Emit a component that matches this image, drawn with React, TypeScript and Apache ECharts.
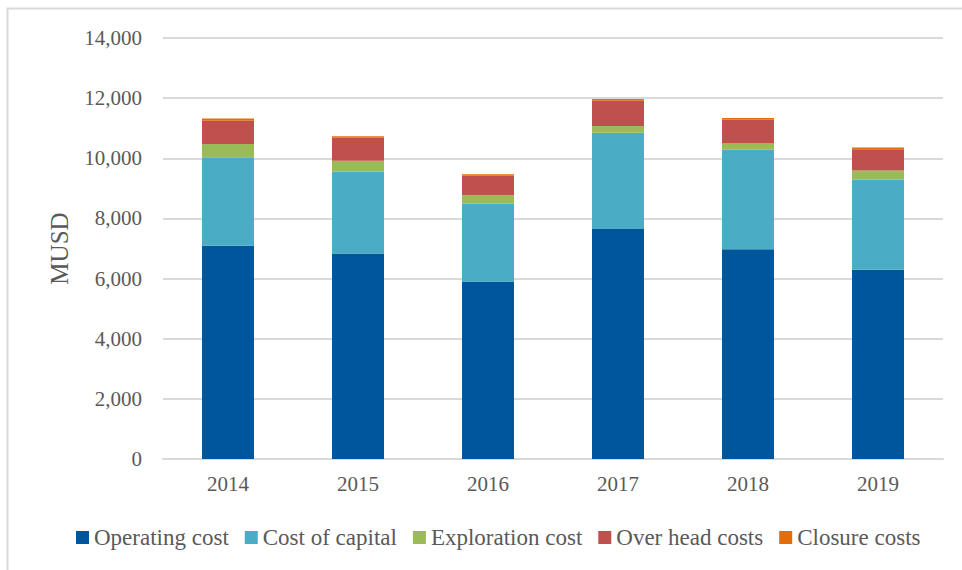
import React, { useEffect, useRef } from "react";
import * as echarts from "echarts";

const years = ["2014", "2015", "2016", "2017", "2018", "2019"];
const operatingCost = [7090, 6830, 5900, 7650, 6975, 6290];
const costOfCapital = [2945, 2725, 2590, 3200, 3310, 3000];
const explorationCost = [440, 365, 280, 225, 225, 300];
const overHeadCosts = [775, 765, 650, 840, 775, 710];
const closureCosts = [75, 50, 50, 55, 55, 55];

const seriesNames = ["Operating cost", "Cost of capital", "Exploration cost", "Over head costs", "Closure costs"];
const seriesData = [operatingCost, costOfCapital, explorationCost, overHeadCosts, closureCosts];
const colors = ["#00569C", "#4BACC6", "#9BBB59", "#C0504D", "#E46C0A"];

const FONT = "Liberation Serif";
const TEXT = "#595959";

export default function App() {
  const ref = useRef<HTMLDivElement>(null);
  useEffect(() => {
    if (!ref.current) return;
    const chart = echarts.init(ref.current, null, { renderer: "svg" });
    chart.setOption({
      animation: false,
      backgroundColor: "#ffffff",
      color: colors,
      textStyle: { fontFamily: FONT },
      graphic: [
        {
          type: "polyline",
          shape: { points: [[7.5, 600], [7.5, 8.5], [1000, 8.5]] },
          style: { stroke: "#d9d9d9", lineWidth: 2, fill: null },
          silent: true,
        },
      ],
      grid: { left: 163, right: 19, top: 38, bottom: 111, containLabel: false },
      legend: {
        left: 71,
        top: 521,
        itemWidth: 13,
        itemHeight: 13,
        itemGap: 16,
        icon: "rect",
        textStyle: { fontFamily: FONT, fontSize: 23, color: TEXT },
        data: seriesNames,
      },
      xAxis: {
        type: "category",
        data: years,
        axisLine: { lineStyle: { color: "#d9d9d9", width: 2 } },
        axisTick: { show: false },
        axisLabel: { fontFamily: FONT, fontSize: 21, color: TEXT, margin: 14 },
      },
      yAxis: {
        type: "value",
        min: 0,
        max: 14000,
        interval: 2000,
        name: "MUSD",
        nameLocation: "middle",
        nameGap: 91,
        nameTextStyle: { fontFamily: FONT, fontSize: 25, color: TEXT },
        axisLine: { show: false },
        axisTick: { show: false },
        splitLine: { lineStyle: { color: "#d9d9d9", width: 2 } },
        axisLabel: {
          fontFamily: FONT,
          fontSize: 21,
          color: TEXT,
          margin: 21,
          formatter: (v: number) => v.toLocaleString("en-US"),
        },
      },
      series: seriesNames.map((name, i) => ({
        name,
        type: "bar",
        stack: "total",
        barWidth: "40%",
        data: seriesData[i],
        itemStyle: { color: colors[i] },
      })),
    });
    return () => chart.dispose();
  }, []);
  return <div ref={ref} style={{ width: 962, height: 570, position: "absolute", left: 0, top: 0 }} />;
}
